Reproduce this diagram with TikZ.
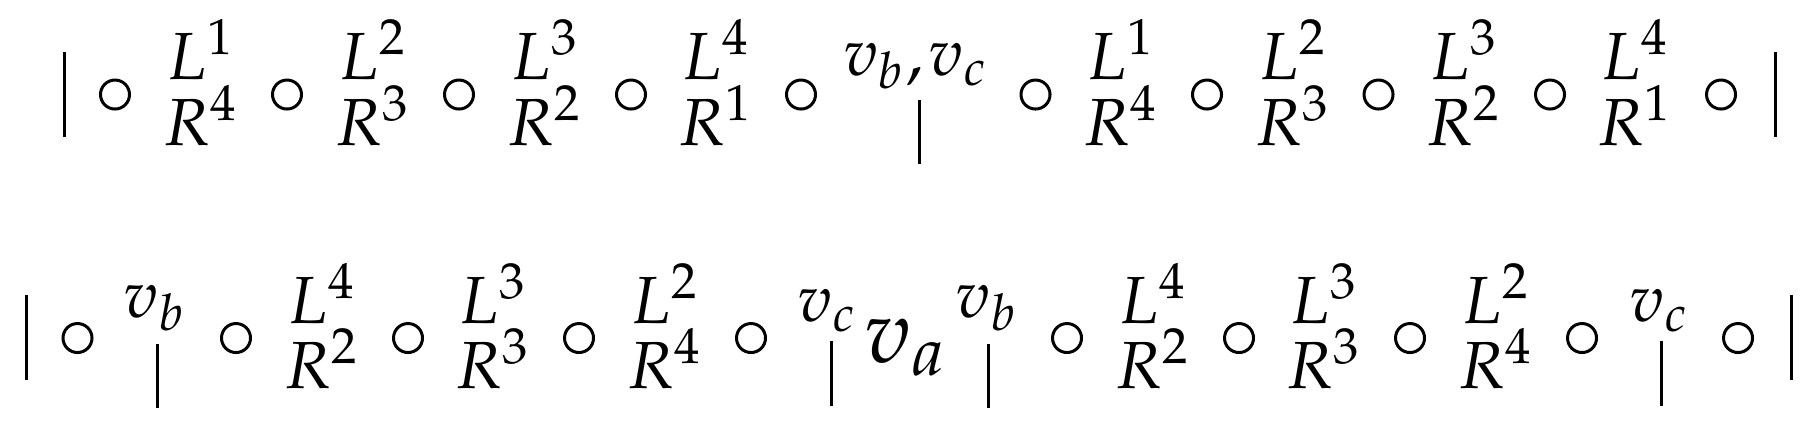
\documentclass[tikz,border=0pt]{standalone}
\usepackage{mathpazo}
\tikzset{
  circ/.style={circle,draw,line width=0.45pt,minimum size=4.35pt,inner sep=0pt},
  lbl/.style={inner sep=0pt,anchor=base},
  biglbl/.style={inner sep=0pt,anchor=base,font=\fontsize{13.5}{16}\selectfont},
  bar/.style={line width=0.45pt}
}
\begin{document}
\begin{tikzpicture}[x=0.15pt,y=-0.15pt]
\useasboundingbox (0,0) rectangle (1813,430);
% ---------- row 1 ----------
\foreach \x [count=\i] in {115,287,459,631,801,1035.5,1207,1378.5,1550,1721}
  \node[circ] (ca\i) at (\x,94.5) {};
\node[lbl] (la1) at (201,79) {$L^1$};   \node[lbl] (ra1) at (201,145) {$R^4$};
\node[lbl] (la2) at (373,79) {$L^2$};   \node[lbl] (ra2) at (373,145) {$R^3$};
\node[lbl] (la3) at (545,79) {$L^3$};   \node[lbl] (ra3) at (545,145) {$R^2$};
\node[lbl] (la4) at (716,79) {$L^4$};   \node[lbl] (ra4) at (716,145) {$R^1$};
\node[lbl] (vbc) at (916,75) {$v_b{,}\mkern1.5mu v_c$};
\node[lbl] (la5) at (1121,79) {$L^1$};  \node[lbl] (ra5) at (1121,145) {$R^4$};
\node[lbl] (la6) at (1293,79) {$L^2$};  \node[lbl] (ra6) at (1293,145) {$R^3$};
\node[lbl] (la7) at (1464,79) {$L^3$};  \node[lbl] (ra7) at (1464,145) {$R^2$};
\node[lbl] (la8) at (1635.5,79) {$L^4$}; \node[lbl] (ra8) at (1635.5,145) {$R^1$};
\draw[bar] (64,52) -- (64,137);
\draw[bar] (1775,52) -- (1775,137);
\draw[bar] (919,100) -- (919,164);
% ---------- row 2 ----------
\foreach \x [count=\i] in {77.5,236,408,579,751,1067,1239,1410,1582,1738}
  \node[circ] (cb\i) at (\x,338) {};
\node[lbl] (vb1) at (155.5,317) {$v_b$};
\node[lbl] (lb1) at (322,323) {$L^4$};   \node[lbl] (rb1) at (322,388) {$R^2$};
\node[lbl] (lb2) at (493.5,323) {$L^3$}; \node[lbl] (rb2) at (493.5,388) {$R^3$};
\node[lbl] (lb3) at (665,323) {$L^2$};   \node[lbl] (rb3) at (665,388) {$R^4$};
\node[lbl] (vc1) at (828,321) {$v_c$};
\node[biglbl] (va) at (906,362) {$v_a$};
\node[lbl] (vb2) at (987.5,317) {$v_b$};
\node[lbl] (lb4) at (1153,323) {$L^4$};  \node[lbl] (rb4) at (1153,388) {$R^2$};
\node[lbl] (lb5) at (1324.5,323) {$L^3$}; \node[lbl] (rb5) at (1324.5,388) {$R^3$};
\node[lbl] (lb6) at (1496,323) {$L^2$};  \node[lbl] (rb6) at (1496,388) {$R^4$};
\node[lbl] (vc2) at (1660,321) {$v_c$};
\draw[bar] (26,295) -- (26,380);
\draw[bar] (1791,295) -- (1791,380);
\draw[bar] (157,344) -- (157,408);
\draw[bar] (831,341) -- (831,406);
\draw[bar] (988,344) -- (988,408);
\draw[bar] (1661,341) -- (1661,406);
\end{tikzpicture}
\end{document}
